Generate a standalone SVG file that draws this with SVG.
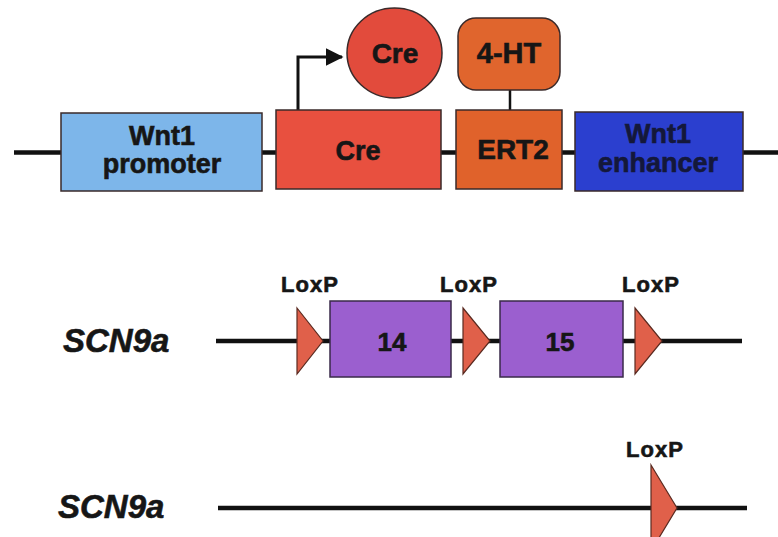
<svg xmlns="http://www.w3.org/2000/svg" width="778" height="537" viewBox="0 0 778 537">
  <defs>
    <style>
      .lbl { font-family: "Liberation Sans", Arial, Helvetica, sans-serif; font-weight: bold; fill: #161616; stroke: #161616; stroke-width: 0.6; text-anchor: middle; }
      .box { stroke: #3a2a2a; stroke-width: 1.5; }
      .dna { stroke: #111; stroke-width: 4.5; fill: none; }
      .loxp { fill: #e0604a; stroke: #5a2a20; stroke-width: 1.2; stroke-linejoin: miter; }
      .exon { fill: #9b5fcf; stroke: #3a2a4a; stroke-width: 1.5; }
      .gene { font-family: "Liberation Sans", Arial, Helvetica, sans-serif; font-weight: bold; font-style: italic; font-size: 33px; fill: #161616; stroke: #161616; stroke-width: 0.6; }
      .lox { font-size: 22px; letter-spacing: 1px; }
      .dark { fill: #14183a; stroke: #14183a; }
    </style>
    <marker id="arrowhead" markerWidth="6" markerHeight="6" refX="5.5" refY="3" orient="auto" markerUnits="strokeWidth">
      <path d="M0,0 L6,3 L0,6 Z" fill="#111"/>
    </marker>
  </defs>

  <rect width="778" height="537" fill="#ffffff"/>

  <!-- connectors: DNA backbones, promoter arrow, 4-HT link -->
  <g id="connectors">
    <line class="dna" x1="14" y1="152.5" x2="778" y2="152.5" stroke-width="5"/>
    <line class="dna" x1="216" y1="341" x2="742" y2="341"/>
    <line class="dna" x1="218" y1="508" x2="747" y2="508"/>
    <polyline points="298,110 298,57 342,57" fill="none" stroke="#111" stroke-width="3" marker-end="url(#arrowhead)"/>
    <line x1="510" y1="90" x2="510" y2="110" stroke="#111" stroke-width="2.5"/>
  </g>

  <!-- transgene construct -->
  <g id="wnt1-promoter">
    <rect class="box" x="61" y="113" width="201" height="78" fill="#7db6ea"/>
    <text class="lbl" x="162" y="145" font-size="27">Wnt1</text>
    <text class="lbl" x="162" y="173" font-size="27">promoter</text>
  </g>
  <g id="cre-gene">
    <rect class="box" x="276" y="110" width="165" height="79" fill="#e8503f"/>
    <text class="lbl" x="358" y="160" font-size="27">Cre</text>
  </g>
  <g id="cre-protein">
    <ellipse class="box" cx="394.5" cy="53" rx="47.5" ry="45" fill="#e24b3c"/>
    <text class="lbl" x="395" y="63" font-size="28">Cre</text>
  </g>
  <g id="ert2">
    <rect class="box" x="456" y="110" width="106" height="79" fill="#e0622b"/>
    <text class="lbl" x="513" y="159" font-size="28">ERT2</text>
  </g>
  <g id="hydroxytamoxifen">
    <rect class="box" x="458" y="18" width="102" height="72" rx="18" ry="18" fill="#e0652d"/>
    <text class="lbl" x="509" y="63" font-size="29">4-HT</text>
  </g>
  <g id="wnt1-enhancer">
    <rect class="box" x="575" y="112" width="168" height="79" fill="#2b3fcf"/>
    <text class="lbl dark" x="658" y="143" font-size="27">Wnt1</text>
    <text class="lbl dark" x="658" y="172" font-size="27">enhancer</text>
  </g>

  <!-- floxed allele -->
  <g id="scn9a-floxed">
    <text class="gene" x="63" y="352">SCN9a</text>
  </g>
  <g id="loxp-1">
    <polygon class="loxp" points="297,308 323,341 297,374"/>
    <text class="lbl lox" x="310" y="292">LoxP</text>
  </g>
  <g id="exon-14">
    <rect class="exon" x="330" y="301" width="121" height="76"/>
    <text class="lbl" x="392" y="351" font-size="26">14</text>
  </g>
  <g id="loxp-2">
    <polygon class="loxp" points="463,308 490,341 463,374"/>
    <text class="lbl lox" x="469" y="292">LoxP</text>
  </g>
  <g id="exon-15">
    <rect class="exon" x="500" y="301" width="123" height="76"/>
    <text class="lbl" x="560" y="351" font-size="26">15</text>
  </g>
  <g id="loxp-3">
    <polygon class="loxp" points="635,308 662,341 635,374"/>
    <text class="lbl lox" x="651" y="292">LoxP</text>
  </g>

  <!-- recombined allele -->
  <g id="scn9a-deleted">
    <text class="gene" x="58" y="518">SCN9a</text>
  </g>
  <g id="loxp-remaining">
    <polygon class="loxp" points="651,465 677,508 651,551"/>
    <text class="lbl lox" x="655" y="457">LoxP</text>
  </g>
</svg>
